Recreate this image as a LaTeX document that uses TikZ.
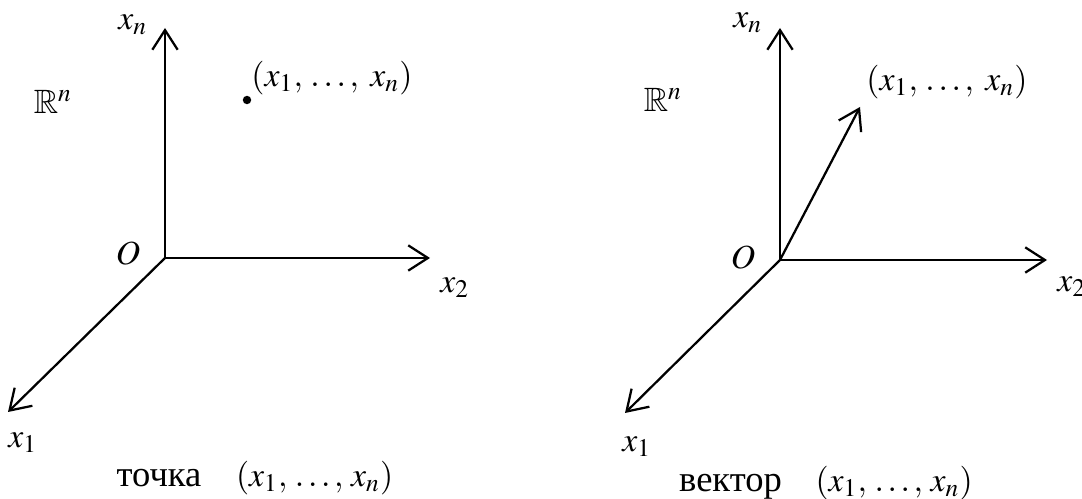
\documentclass[tikz,border=0pt]{standalone}
\usepackage{amssymb}
\usepackage{mathptmx}
\usepackage{fontspec}
\setmainfont{Liberation Serif}
\usetikzlibrary{arrows.meta}
\tikzset{
  axis/.style={-{Straight Barb[length=7pt,width=9pt]}, line width=0.8pt},
  lbl/.style={inner sep=0pt, font=\large},
  pt/.style={circle, fill=black, inner sep=0pt, minimum size=3pt},
}
\newcommand{\capword}[1]{{\fontsize{13}{16}\selectfont #1}}

\begin{document}
\begin{tikzpicture}[x=0.0125cm, y=-0.0125cm]
  \useasboundingbox (0,0) rectangle (1082,499);
  % point
  \coordinate (oA) at (165,258);
  \coordinate (xnA) at (165,28);
  \coordinate (xtwoA) at (430,258);
  \coordinate (xoneA) at (8,412);
  \node[lbl] (oAlbl) at (128,253) {$O$};
  \node[lbl] (xnAlbl) at (133,25) {$x_n$};
  \node[lbl] (rnA) at (53,102) {$\mathbb{R}^n$};
  \node[pt] (ptA) at (247,100) {};
  \node[lbl] (ptAlbl) at (332,78) {$(x_1,\,\ldots,\; x_n)$};
  \node[lbl] (xtwoAlbl) at (455,288) {$x_2$};
  \node[lbl] (xoneAlbl) at (23,443) {$x_1$};
  \node[lbl] (capA) at (255,478) {\capword{точка}\enspace\; $(x_1,\,\ldots,\, x_n)$};
  \draw[axis] (oA) -- (xnA);
  \draw[axis] (oA) -- (xtwoA);
  \draw[axis] (oA) -- (xoneA);
  % vector
  \coordinate (oB) at (780,260);
  \coordinate (xnB) at (780,28);
  \coordinate (xtwoB) at (1047,260);
  \coordinate (xoneB) at (625,413);
  \coordinate (vecB) at (860,107);
  \node[lbl] (oBlbl) at (743,257) {$O$};
  \node[lbl] (xnBlbl) at (748,23) {$x_n$};
  \node[lbl] (rnB) at (663,100) {$\mathbb{R}^n$};
  \node[lbl] (vecBlbl) at (947,82) {$(x_1,\,\ldots,\; x_n)$};
  \node[lbl] (xtwoBlbl) at (1072,287) {$x_2$};
  \node[lbl] (xoneBlbl) at (637,447) {$x_1$};
  \node[lbl] (capB) at (826,483) {\capword{вектор}\quad $(x_1,\,\ldots,\, x_n)$};
  \draw[axis] (oB) -- (xnB);
  \draw[axis] (oB) -- (xtwoB);
  \draw[axis] (oB) -- (xoneB);
  \draw[axis] (oB) -- (vecB);
\end{tikzpicture}
\end{document}
